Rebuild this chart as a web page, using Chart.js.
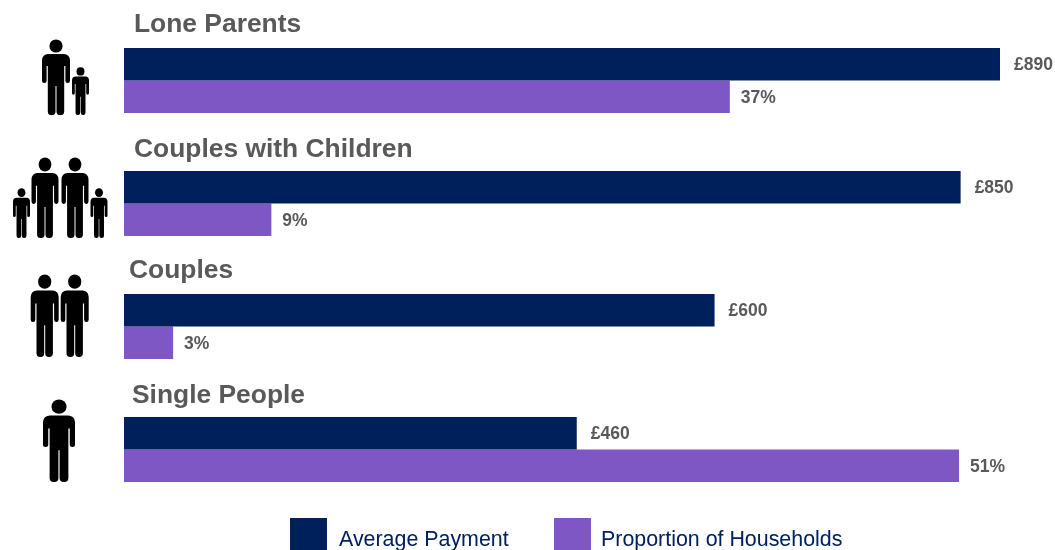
<!DOCTYPE html>
<html>
<head>
<meta charset="utf-8">
<style>
html,body{margin:0;padding:0;background:#fff;overflow:hidden}
#wrap{width:1055px;height:550px;position:relative}
</style>
<script src="https://cdn.jsdelivr.net/npm/chart.js@4"></script>
</head>
<body>
<div id="wrap"><canvas id="c" width="1055" height="550"></canvas></div>
<script>
const categories = ["Lone Parents", "Couples with Children", "Couples", "Single People"];
const averagePayment = [890, 850, 600, 460];
const householdShare = [37, 9, 3, 51];
const seriesNames = ["Average Payment", "Proportion of Households"];
const seriesColors = ["#00205B", "#7F57C4"];

const titleX = [134, 134, 129, 132];
const titleRise = [48.5, 46.5, 48.5, 46.5];
const legendBoxX = [290, 554];
const icons = [
  [[56, 39, 76, 28], [80.5, 67, 48, 17]],
  [[21.5, 188, 50, 17], [45, 157, 81, 27], [75, 157, 81, 27], [99, 188, 50, 17]],
  [[44.7, 274, 83, 28], [74.7, 274, 83, 28]],
  [[59, 399, 83, 32]]
];

function drawPerson(ctx, cx, top, h, w) {
  ctx.save();
  ctx.translate(cx, top);
  ctx.scale(w / 28, h / 76);
  ctx.fillStyle = "#000";
  ctx.beginPath();
  ctx.arc(0, 7, 6.6, 0, Math.PI * 2);
  ctx.fill();
  ctx.beginPath();
  ctx.roundRect(-14, 15, 28, 12, [6, 6, 0, 0]);
  ctx.roundRect(-14, 20, 4.6, 24, 2.3);
  ctx.roundRect(9.4, 20, 4.6, 24, 2.3);
  ctx.rect(-8.2, 18, 16.4, 29);
  ctx.roundRect(-8.2, 42, 7.7, 34, 3.6);
  ctx.roundRect(0.5, 42, 7.7, 34, 3.6);
  ctx.fill();
  ctx.restore();
}

const annotations = {
  id: "annotations",
  afterDraw(chart) {
    const ctx = chart.ctx;
    const y = chart.scales.y;
    ctx.save();
    // group titles
    ctx.font = "bold 26.4px 'Liberation Sans', Arial, sans-serif";
    ctx.fillStyle = "#595959";
    ctx.textAlign = "left";
    ctx.textBaseline = "alphabetic";
    categories.forEach((name, i) => {
      ctx.fillText(name, titleX[i], y.getPixelForValue(i) - titleRise[i]);
    });
    // value labels
    ctx.font = "bold 17.5px 'Liberation Sans', Arial, sans-serif";
    ctx.textBaseline = "middle";
    chart.getDatasetMeta(0).data.forEach((bar, i) => {
      ctx.fillText("£" + averagePayment[i], bar.x + 14, bar.y + 1);
    });
    chart.getDatasetMeta(1).data.forEach((bar, i) => {
      ctx.fillText(householdShare[i] + "%", bar.x + 11, bar.y + 1);
    });
    // legend
    ctx.font = "21.4px 'Liberation Sans', Arial, sans-serif";
    ctx.textBaseline = "alphabetic";
    seriesNames.forEach((name, i) => {
      ctx.fillStyle = seriesColors[i];
      ctx.fillRect(legendBoxX[i], 518, 37, 37);
      ctx.fillStyle = "#002060";
      ctx.fillText(name, legendBoxX[i] + 37 + (i === 0 ? 12 : 10), 546);
    });
    // people icons
    icons.forEach(group => group.forEach(p => drawPerson(ctx, p[0], p[1], p[2], p[3])));
    ctx.restore();
  }
};

new Chart(document.getElementById("c"), {
  type: "bar",
  plugins: [annotations],
  data: {
    labels: categories,
    datasets: [
      { label: seriesNames[0], data: averagePayment, backgroundColor: seriesColors[0], xAxisID: "x" },
      { label: seriesNames[1], data: householdShare, backgroundColor: seriesColors[1], xAxisID: "x2" }
    ]
  },
  options: {
    indexAxis: "y",
    responsive: false,
    animation: false,
    layout: { padding: { left: 124, right: 55, top: 19, bottom: 39 } },
    datasets: { bar: { barPercentage: 1, categoryPercentage: 0.528 } },
    scales: {
      x: { display: false, min: 0, max: 890 },
      x2: { display: false, min: 0, max: 53.5 },
      y: { display: false }
    },
    plugins: { legend: { display: false }, tooltip: { enabled: false } }
  }
});
</script>
</body>
</html>
